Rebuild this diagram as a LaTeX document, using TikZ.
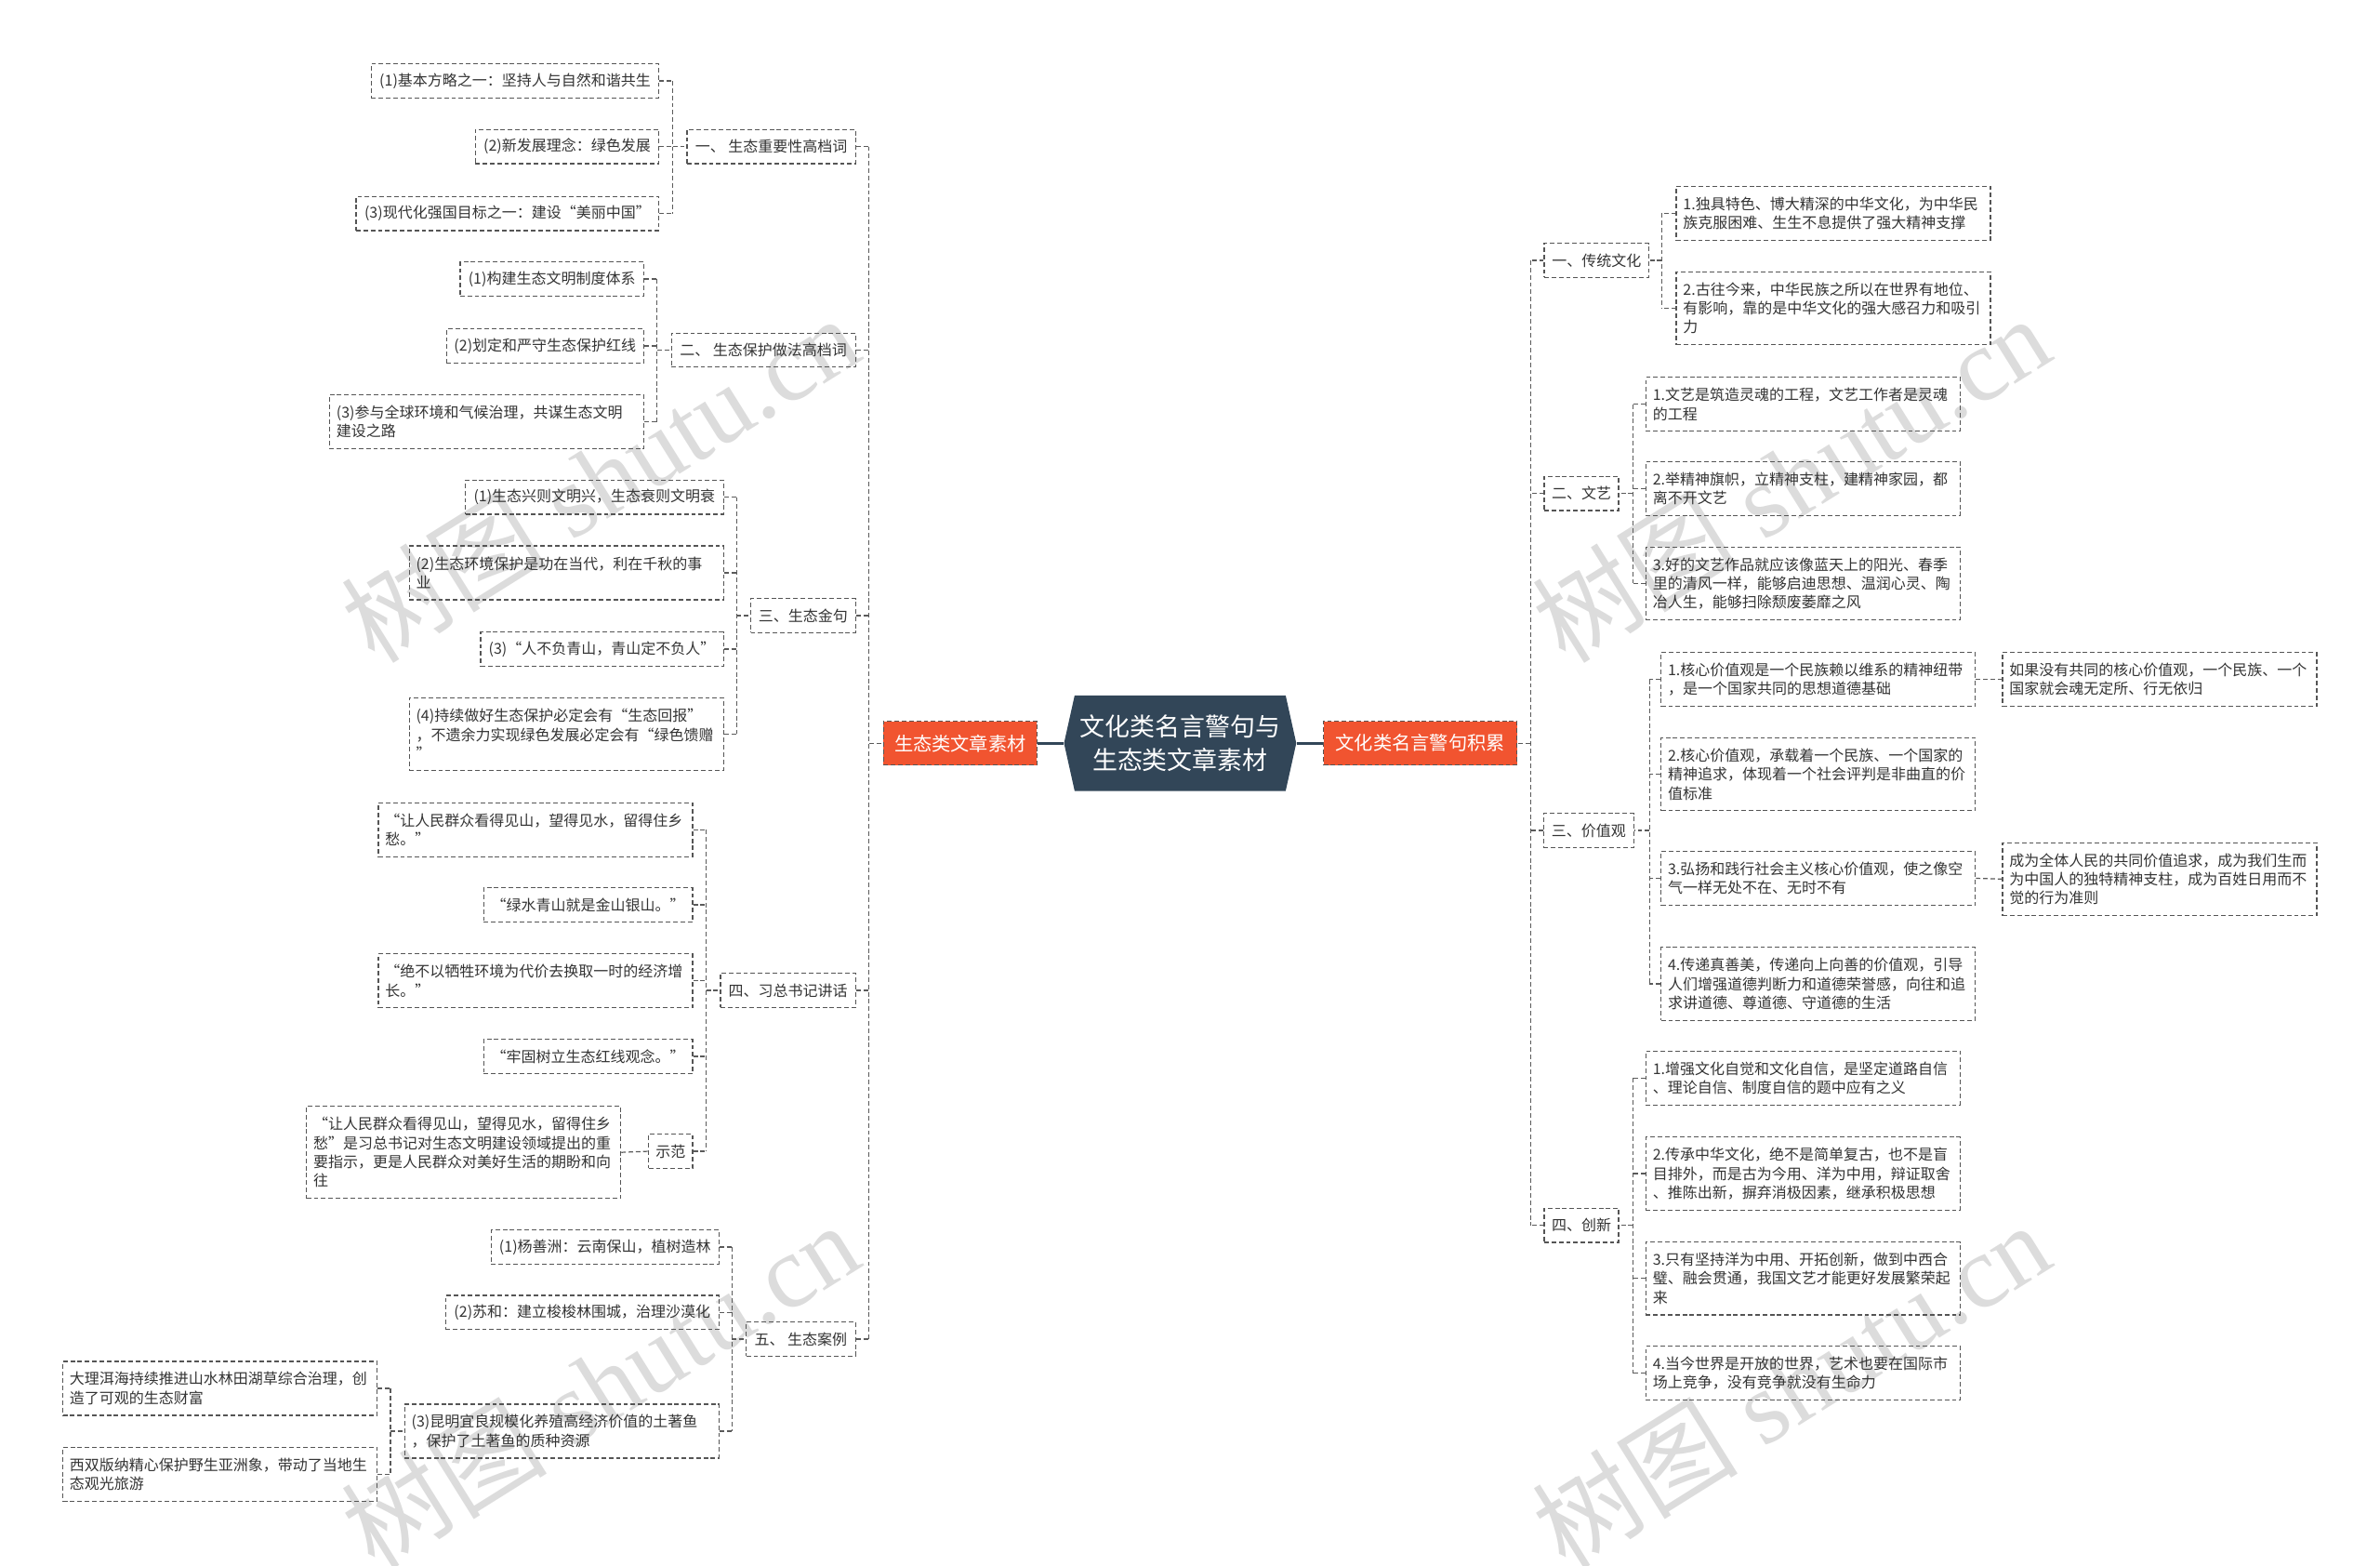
\documentclass[tikz,border=0pt]{standalone}
\usepackage{fontspec}
\newfontfamily\cjk{Noto Sans CJK SC}
\newfontfamily\wmlat{Liberation Serif}
\definecolor{boxc}{RGB}{85,85,85}
\definecolor{txtc}{RGB}{51,51,51}
\definecolor{connc}{RGB}{90,90,90}
\definecolor{orangec}{RGB}{241,84,48}
\definecolor{hexc}{RGB}{50,70,88}
\definecolor{wmc}{RGB}{220,220,220}
\newcommand\leaffont{\cjk\fontsize{9.8}{12.4}\selectfont}
\begin{document}
\begin{tikzpicture}[x=1pt,y=-1pt,
  box/.style={draw=boxc, line width=0.75pt, dash pattern=on 3pt off 1.8pt,
    inner xsep=4.5pt, inner ysep=0pt, text=txtc, font=\leaffont, align=left},
  one/.style={box, minimum height=22.5pt},
  two/.style={box, minimum height=35.5pt, text width=198pt},
  three/.style={box, minimum height=48pt, text width=198pt},
  four/.style={box, minimum height=60.5pt, text width=198pt},
  conn/.style={draw=connc, line width=0.75pt, dash pattern=on 3pt off 1.8pt},
  orangebox/.style={fill=orangec, draw=boxc, line width=0.75pt, dash pattern=on 3pt off 1.8pt,
    text=white, font=\cjk\fontsize{12.4}{14}\selectfont, minimum height=29pt, inner xsep=4pt},
  mainline/.style={draw=hexc, line width=1.6pt},
  wm/.style={rotate=32, text=wmc, font=\wmlat\fontsize{68}{68}\selectfont, inner sep=0pt}
]
\useasboundingbox (0,0) rectangle (1568,1031);

% watermarks
\node[wm] (w1) at (395,315) {{\cjk 树图} shutu.cn};
\node[wm] (w2) at (1180,315) {{\cjk 树图} shutu.cn};
\node[wm] (w3) at (395,912) {{\cjk 树图} shutu.cn};
\node[wm] (w4) at (1180,912) {{\cjk 树图} shutu.cn};

% centre
\fill[hexc] (708,458) -- (847,458) -- (854,489.5) -- (847,521) -- (708,521) -- (701,489.5) -- cycle;
\node[minimum width=153pt, minimum height=63pt, inner sep=0pt, align=center, text=white,
  font=\cjk\fontsize{16.5}{21.5}\selectfont] (hex) at (777.5,489.5) {文化类名言警句与\\生态类文章素材};
\node[orangebox, minimum width=101pt, anchor=east] (L) at (683.5,489.5) {生态类文章素材};
\node[orangebox, minimum width=127.4pt, anchor=west] (R) at (871.6,489.5) {文化类名言警句积累};
\draw[mainline] (L.east) -- (hex.west);
\draw[mainline] (hex.east) -- (R.west);

% ---------------- left side ----------------
\node[one, minimum width=111pt, anchor=east] (s1) at (564,96.5) {一、 生态重要性高档词};
\node[one, minimum width=189.5pt, anchor=east] (s1a) at (434.5,53.3) {(1)基本方略之一：坚持人与自然和谐共生};
\node[one, minimum width=121pt, anchor=east] (s1b) at (434.5,96.5) {(2)新发展理念：绿色发展};
\node[one, minimum width=199.5pt, anchor=east] (s1c) at (434.5,140.6) {(3)现代化强国目标之一：建设“美丽中国”};

\node[one, minimum width=121.3pt, anchor=east] (s2) at (564,230.6) {二、 生态保护做法高档词};
\node[one, minimum width=121pt, anchor=east] (s2a) at (424.5,183.7) {(1)构建生态文明制度体系};
\node[one, minimum width=130pt, anchor=east] (s2b) at (424.5,227.8) {(2)划定和严守生态保护红线};
\node[two, anchor=east] (s2c) at (424.5,277.8) {(3)参与全球环境和气候治理，共谋生态文明\\建设之路};

\node[one, minimum width=69pt, anchor=east] (s3) at (564,405.5) {三、生态金句};
\node[one, minimum width=170pt, anchor=east] (s3a) at (477,327.4) {(1)生态兴则文明兴，生态衰则文明衰};
\node[two, anchor=east] (s3b) at (477,377.3) {(2)生态环境保护是功在当代，利在千秋的事\\业};
\node[one, minimum width=160pt, anchor=east] (s3c) at (477,427.5) {(3)“人不负青山，青山定不负人”};
\node[three, anchor=east] (s3d) at (477,483.5) {(4)持续做好生态保护必定会有“生态回报”\\，不遗余力实现绿色发展必定会有“绿色馈赠\\”};

\node[one, minimum width=89pt, anchor=east] (s4) at (564,652.3) {四、习总书记讲话};
\node[two, anchor=east] (s4a) at (456.7,546.5) {“让人民群众看得见山，望得见水，留得住乡\\愁。”};
\node[one, minimum width=137.7pt, anchor=east] (s4b) at (456.7,596) {“绿水青山就是金山银山。”};
\node[two, anchor=east] (s4c) at (456.7,646) {“绝不以牺牲环境为代价去换取一时的经济增\\长。”};
\node[one, minimum width=137.7pt, anchor=east] (s4d) at (456.7,695.8) {“牢固树立生态红线观念。”};
\node[one, minimum width=29pt, anchor=east] (s4e) at (456.7,758.3) {示范};
\node[four, anchor=east] (s4e1) at (409.3,759) {“让人民群众看得见山，望得见水，留得住乡\\愁”是习总书记对生态文明建设领域提出的重\\要指示，更是人民群众对美好生活的期盼和向\\往};

\node[one, minimum width=72pt, anchor=east] (s5) at (564,882) {五、 生态案例};
\node[one, minimum width=150pt, anchor=east] (s5a) at (474,821.3) {(1)杨善洲：云南保山，植树造林};
\node[one, minimum width=180pt, anchor=east] (s5b) at (474,864.5) {(2)苏和：建立梭梭林围城，治理沙漠化};
\node[two, anchor=east] (s5c) at (474,942.6) {(3)昆明宜良规模化养殖高经济价值的土著鱼\\，保护了土著鱼的质种资源};
\node[two, anchor=east] (s5c1) at (248.8,914.4) {大理洱海持续推进山水林田湖草综合治理，创\\造了可观的生态财富};
\node[two, anchor=east] (s5c2) at (248.8,971) {西双版纳精心保护野生亚洲象，带动了当地生\\态观光旅游};

% left connectors
\coordinate (bL) at ([xshift=-9.2pt]L.west);
\foreach \c in {s1,s2,s3,s4,s5} {\draw[conn] (\c.east) -- (\c.east -| bL);}
\draw[conn] (s1.east -| bL) -- (s5.east -| bL);
\draw[conn] (bL) -- (L.west);

\coordinate (b1) at ([xshift=-9pt]s1.west);
\foreach \c in {s1a,s1b,s1c} {\draw[conn] (\c.east) -- (\c.east -| b1);}
\draw[conn] (s1a.east -| b1) -- (s1c.east -| b1);
\draw[conn] (b1) -- (s1.west);

\coordinate (b2) at ([xshift=-9pt]s2.west);
\foreach \c in {s2a,s2b,s2c} {\draw[conn] (\c.east) -- (\c.east -| b2);}
\draw[conn] (s2a.east -| b2) -- (s2c.east -| b2);
\draw[conn] (b2) -- (s2.west);

\coordinate (b3) at ([xshift=-9pt]s3.west);
\foreach \c in {s3a,s3b,s3c,s3d} {\draw[conn] (\c.east) -- (\c.east -| b3);}
\draw[conn] (s3a.east -| b3) -- (s3d.east -| b3);
\draw[conn] (b3) -- (s3.west);

\coordinate (b4) at ([xshift=-9pt]s4.west);
\foreach \c in {s4a,s4b,s4c,s4d,s4e} {\draw[conn] (\c.east) -- (\c.east -| b4);}
\draw[conn] (s4a.east -| b4) -- (s4e.east -| b4);
\draw[conn] (b4) -- (s4.west);
\draw[conn] (s4e1.east) -- (s4e.west);

\coordinate (b5) at ([xshift=-9pt]s5.west);
\foreach \c in {s5a,s5b,s5c} {\draw[conn] (\c.east) -- (\c.east -| b5);}
\draw[conn] (s5a.east -| b5) -- (s5c.east -| b5);
\draw[conn] (b5) -- (s5.west);

\coordinate (b5c) at ([xshift=-9pt]s5c.west);
\foreach \c in {s5c1,s5c2} {\draw[conn] (\c.east) -- (\c.east -| b5c);}
\draw[conn] (s5c1.east -| b5c) -- (s5c2.east -| b5c);
\draw[conn] (b5c) -- (s5c.west);

% ---------------- right side ----------------
\node[one, minimum width=69pt, anchor=west] (r1) at (1017,171.5) {一、传统文化};
\node[two, anchor=west] (r1a) at (1104,140.5) {1.独具特色、博大精深的中华文化，为中华民\\族克服困难、生生不息提供了强大精神支撑};
\node[three, anchor=west] (r1b) at (1104,203) {2.古往今来，中华民族之所以在世界有地位、\\有影响，靠的是中华文化的强大感召力和吸引\\力};

\node[one, minimum width=49pt, anchor=west] (r2) at (1017,325) {二、文艺};
\node[two, anchor=west] (r2a) at (1084,266.3) {1.文艺是筑造灵魂的工程，文艺工作者是灵魂\\的工程};
\node[two, anchor=west] (r2b) at (1084,321.8) {2.举精神旗帜，立精神支柱，建精神家园，都\\离不开文艺};
\node[three, anchor=west] (r2c) at (1084,384.3) {3.好的文艺作品就应该像蓝天上的阳光、春季\\里的清风一样，能够启迪思想、温润心灵、陶\\冶人生，能够扫除颓废萎靡之风};

\node[one, minimum width=59.5pt, anchor=west] (r3) at (1016.5,547) {三、价值观};
\node[two, anchor=west] (r3a) at (1094,447.5) {1.核心价值观是一个民族赖以维系的精神纽带\\，是一个国家共同的思想道德基础};
\node[two, anchor=west] (r3a1) at (1319,447.5) {如果没有共同的核心价值观，一个民族、一个\\国家就会魂无定所、行无依归};
\node[three, anchor=west] (r3b) at (1094,510) {2.核心价值观，承载着一个民族、一个国家的\\精神追求，体现着一个社会评判是非曲直的价\\值标准};
\node[two, anchor=west] (r3c) at (1094,578.5) {3.弘扬和践行社会主义核心价值观，使之像空\\气一样无处不在、无时不有};
\node[three, anchor=west] (r3c1) at (1319,579) {成为全体人民的共同价值追求，成为我们生而\\为中国人的独特精神支柱，成为百姓日用而不\\觉的行为准则};
\node[three, anchor=west] (r3d) at (1094,648) {4.传递真善美，传递向上向善的价值观，引导\\人们增强道德判断力和道德荣誉感，向往和追\\求讲道德、尊道德、守道德的生活};

\node[one, minimum width=49pt, anchor=west] (r4) at (1017,807) {四、创新};
\node[two, anchor=west] (r4a) at (1084,710) {1.增强文化自觉和文化自信，是坚定道路自信\\、理论自信、制度自信的题中应有之义};
\node[three, anchor=west] (r4b) at (1084,773) {2.传承中华文化，绝不是简单复古，也不是盲\\目排外，而是古为今用、洋为中用，辩证取舍\\、推陈出新，摒弃消极因素，继承积极思想};
\node[three, anchor=west] (r4c) at (1084,842) {3.只有坚持洋为中用、开拓创新，做到中西合\\璧、融会贯通，我国文艺才能更好发展繁荣起\\来};
\node[two, anchor=west] (r4d) at (1084,904.5) {4.当今世界是开放的世界，艺术也要在国际市\\场上竞争，没有竞争就没有生命力};

% right connectors
\coordinate (bR) at ([xshift=8.5pt]R.east);
\foreach \c in {r1,r2,r3,r4} {\draw[conn] (\c.west) -- (\c.west -| bR);}
\draw[conn] (r1.west -| bR) -- (r4.west -| bR);
\draw[conn] (bR) -- (R.east);

\coordinate (c1) at ([xshift=8pt]r1.east);
\foreach \c in {r1a,r1b} {\draw[conn] (\c.west) -- (\c.west -| c1);}
\draw[conn] (r1a.west -| c1) -- (r1b.west -| c1);
\draw[conn] (c1) -- (r1.east);

\coordinate (c2) at ([xshift=9pt]r2.east);
\foreach \c in {r2a,r2b,r2c} {\draw[conn] (\c.west) -- (\c.west -| c2);}
\draw[conn] (r2a.west -| c2) -- (r2c.west -| c2);
\draw[conn] (c2) -- (r2.east);

\coordinate (c3) at ([xshift=10pt]r3.east);
\foreach \c in {r3a,r3b,r3c,r3d} {\draw[conn] (\c.west) -- (\c.west -| c3);}
\draw[conn] (r3a.west -| c3) -- (r3d.west -| c3);
\draw[conn] (c3) -- (r3.east);
\draw[conn] (r3a.east) -- (r3a1.west);
\draw[conn] (r3c.east) -- (r3c1.west);

\coordinate (c4) at ([xshift=9pt]r4.east);
\foreach \c in {r4a,r4b,r4c,r4d} {\draw[conn] (\c.west) -- (\c.west -| c4);}
\draw[conn] (r4a.west -| c4) -- (r4d.west -| c4);
\draw[conn] (c4) -- (r4.east);
\end{tikzpicture}
\end{document}
